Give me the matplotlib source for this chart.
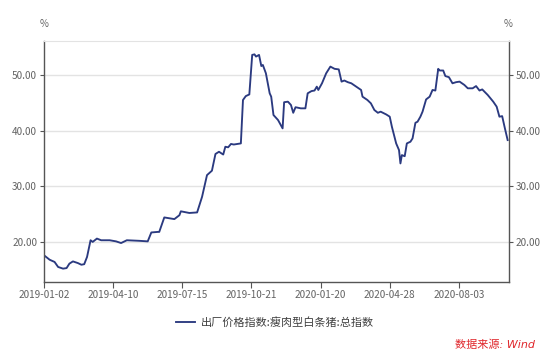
import numpy as np
import matplotlib
matplotlib.use('Agg')
import matplotlib.pyplot as plt
import matplotlib.dates as mdates

plt.rcParams['font.family'] = ['Noto Sans CJK SC', 'DejaVu Sans']

# (approximate)
dates = [
    '2019-01-02', '2019-01-10', '2019-01-17', '2019-01-22', '2019-01-29', '2019-02-03',
    '2019-02-07', '2019-02-12', '2019-02-19', '2019-02-24', '2019-02-28', '2019-03-04',
    '2019-03-09', '2019-03-12', '2019-03-18', '2019-03-24', '2019-04-05', '2019-04-14',
    '2019-04-21', '2019-04-29', '2019-05-16', '2019-05-28', '2019-06-02', '2019-06-11',
    '2019-06-13', '2019-06-20', '2019-07-04', '2019-07-11', '2019-07-13', '2019-07-25',
    '2019-08-05', '2019-08-12', '2019-08-19', '2019-08-26', '2019-08-31', '2019-09-05',
    '2019-09-11', '2019-09-14', '2019-09-18', '2019-09-22', '2019-09-26', '2019-10-06',
    '2019-10-09', '2019-10-13', '2019-10-18', '2019-10-22', '2019-10-25', '2019-10-27',
    '2019-10-31', '2019-11-03', '2019-11-05', '2019-11-09', '2019-11-14', '2019-11-16',
    '2019-11-19', '2019-11-25', '2019-12-01', '2019-12-03', '2019-12-08', '2019-12-12',
    '2019-12-15', '2019-12-18', '2019-12-25', '2019-12-31', '2020-01-03', '2020-01-08',
    '2020-01-12', '2020-01-15', '2020-01-17', '2020-01-22', '2020-01-28', '2020-02-03',
    '2020-02-09', '2020-02-15', '2020-02-19', '2020-02-23', '2020-02-28', '2020-03-04',
    '2020-03-11', '2020-03-18', '2020-03-20', '2020-03-27', '2020-04-01', '2020-04-06',
    '2020-04-11', '2020-04-15', '2020-04-23', '2020-04-28', '2020-05-01', '2020-05-07',
    '2020-05-11', '2020-05-13', '2020-05-15', '2020-05-19', '2020-05-22', '2020-05-27',
    '2020-05-30', '2020-06-03', '2020-06-06', '2020-06-10', '2020-06-13', '2020-06-18',
    '2020-06-23', '2020-06-27', '2020-07-01', '2020-07-05', '2020-07-07', '2020-07-12',
    '2020-07-15', '2020-07-20', '2020-07-25', '2020-07-30', '2020-08-04', '2020-08-11',
    '2020-08-16', '2020-08-23', '2020-08-28', '2020-09-02', '2020-09-06', '2020-09-14',
    '2020-09-22', '2020-09-27', '2020-10-01', '2020-10-05', '2020-10-09', '2020-10-13',
]
values = [
    17.6, 16.8, 16.4, 15.5, 15.2, 15.3,
    16.1, 16.5, 16.2, 15.9, 16.0, 17.3,
    20.3, 20.0, 20.6, 20.3, 20.3, 20.1,
    19.8, 20.3, 20.2, 20.1, 21.7, 21.8,
    21.8, 24.4, 24.1, 24.8, 25.5, 25.2,
    25.3, 28.1, 32.0, 32.8, 35.8, 36.2,
    35.7, 37.1, 37.0, 37.6, 37.5, 37.7,
    45.5, 46.2, 46.5, 53.6, 53.7, 53.3,
    53.6, 51.6, 51.8, 50.3, 46.7, 46.1,
    42.8, 41.9, 40.4, 45.1, 45.2, 44.6,
    43.2, 44.2, 44.0, 44.0, 46.7, 47.1,
    47.2, 47.9, 47.3, 48.5, 50.3, 51.5,
    51.1, 51.0, 48.8, 49.0, 48.7, 48.5,
    47.9, 47.3, 46.1, 45.5, 44.9, 43.7,
    43.2, 43.4, 42.9, 42.5, 40.7, 37.7,
    36.5, 34.1, 35.6, 35.4, 37.7, 38.0,
    38.6, 41.4, 41.6, 42.5, 43.4, 45.6,
    46.1, 47.3, 47.2, 51.1, 50.8, 50.8,
    49.8, 49.6, 48.5, 48.7, 48.8, 48.2,
    47.6, 47.6, 48.0, 47.2, 47.4, 46.4,
    45.2, 44.3, 42.5, 42.6, 40.4, 38.3,
]
tick_labels = ['2019-01-02', '2019-04-10', '2019-07-15', '2019-10-21',
               '2020-01-20', '2020-04-28', '2020-08-03']
end_date = '2020-10-15'
series_name = '出厂价格指数:瘦肉型白条猪:总指数'

# the axis is spaced by trading days, so ticks sit evenly
anchor_nums = mdates.datestr2num(tick_labels + [end_date])
anchor_pos = np.array([0, 1, 2, 3, 4, 5, 6, 6.725])


def fwd(x):
    return np.interp(x, anchor_nums, anchor_pos)


def inv(p):
    return np.interp(p, anchor_pos, anchor_nums)


x = mdates.datestr2num(dates)

fig = plt.figure(figsize=(5.5, 3.59), dpi=100)
ax = fig.add_axes([0.08, 0.2145, 0.8455, 0.6713])
ax.plot(x, values, color='#2b3a80', lw=1.35, label=series_name)
ax.set_xscale('function', functions=(fwd, inv))
ax.set_xlim(anchor_nums[0], anchor_nums[-1])
ax.set_xticks(anchor_nums[:-1])
ax.set_xticklabels(tick_labels)
ax.set_ylim(12.8, 56.1)
ax.set_yticks([20, 30, 40, 50])
ax.set_yticklabels(['20.00', '30.00', '40.00', '50.00'])
ax.minorticks_off()

ax.grid(axis='y', color='#e3e3e3', lw=1)
ax.set_axisbelow(True)
for s in ['left', 'right', 'bottom']:
    ax.spines[s].set_color('#555555')
    ax.spines[s].set_linewidth(1)
ax.spines['top'].set_color('#e3e3e3')

ax.tick_params(axis='y', left=True, right=True, labelleft=True, labelright=True,
               length=3, width=0.8, color='#555555', labelsize=7.2,
               labelcolor='#636363', pad=2)
ax.tick_params(axis='x', length=4, width=0.8, color='#555555', labelsize=7.2,
               labelcolor='#636363', pad=1.5)

fig.text(0.081, 0.934, '%', ha='center', va='center', fontsize=7, color='#636363')
fig.text(0.924, 0.934, '%', ha='center', va='center', fontsize=7, color='#636363')

fig.legend(loc='center', bbox_to_anchor=(0.5, 0.1017), frameon=False,
           fontsize=8, handlelength=1.7, handletextpad=0.45,
           labelcolor='#404040')

fig.text(0.973, 0.039, '数据来源: Wind', ha='right', va='center', fontsize=8,
         color='#e0262b', style='italic',
         family=['DejaVu Sans', 'Noto Sans CJK SC'])

fig.savefig('out.png', dpi=100)
